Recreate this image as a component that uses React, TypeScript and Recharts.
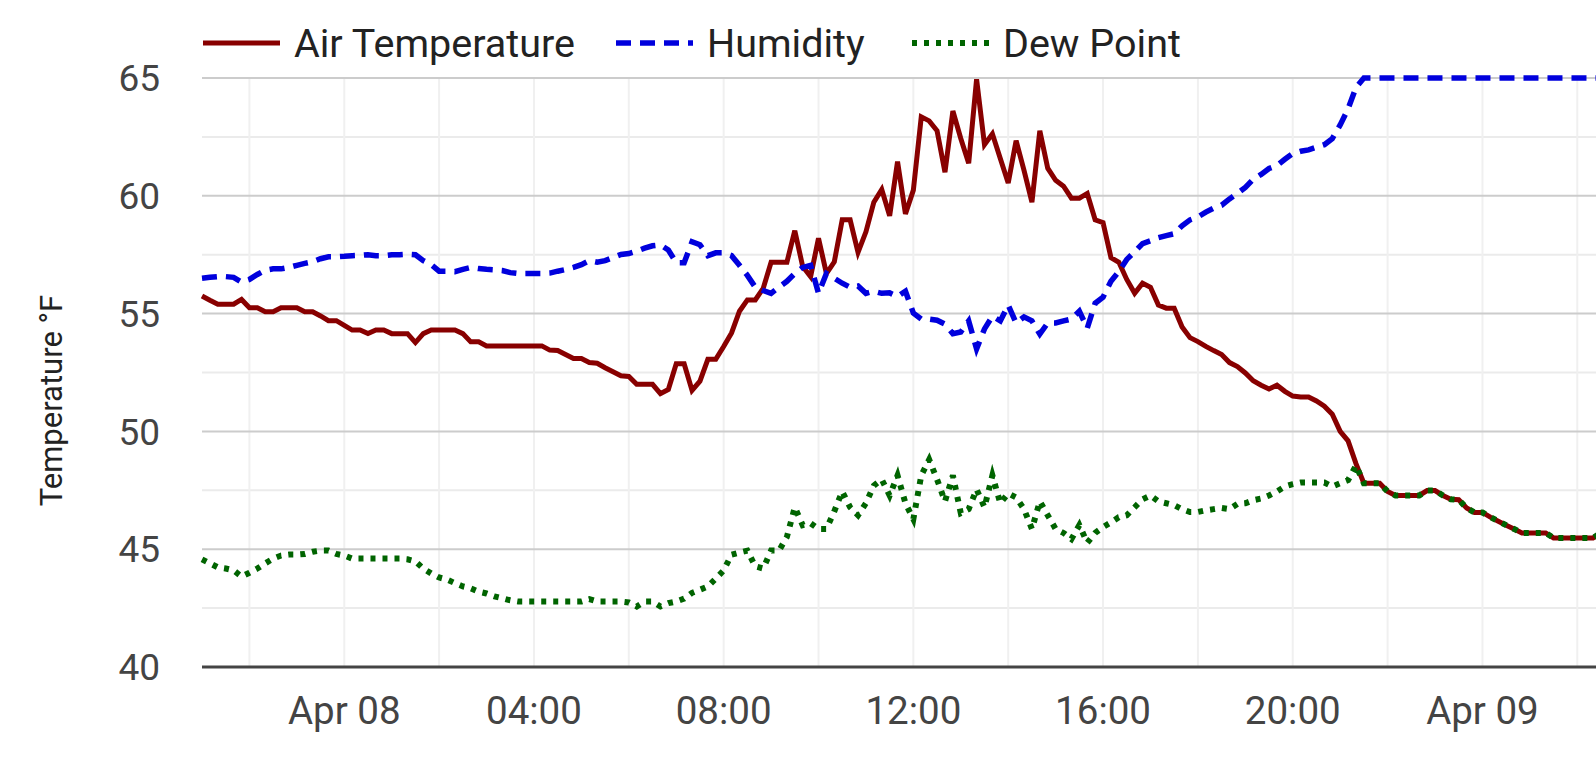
import { LineChart, Line, XAxis, YAxis, CartesianGrid } from "recharts"

// Readings every 10 minutes, first one at 21:00 on Apr 07.
// Times are minutes relative to Apr 08 00:00.
const START_MIN = -180
const STEP_MIN = 10

// one row per hour (6 readings)
const airTemp = [
  55.75, 55.57, 55.4, 55.4, 55.4, 55.6,
  55.25, 55.25, 55.08, 55.08, 55.25, 55.25,
  55.25, 55.08, 55.08, 54.9, 54.7, 54.7,
  // Apr 08
  54.5, 54.3, 54.3, 54.15, 54.3, 54.3,
  54.15, 54.15, 54.15, 53.77, 54.15, 54.3,
  54.3, 54.3, 54.3, 54.15, 53.8, 53.8,
  53.63, 53.63, 53.63, 53.63, 53.63, 53.63,
  53.63, 53.63, 53.45, 53.43, 53.26, 53.09,
  53.09, 52.92, 52.89, 52.7, 52.53, 52.36,
  52.33, 52.0, 52.0, 52.0, 51.6, 51.78,
  52.87, 52.87, 51.74, 52.13, 53.06, 53.06,
  53.6, 54.18, 55.1, 55.58, 55.58, 56.07,
  57.18, 57.18, 57.18, 58.52, 57.0, 56.57,
  58.2, 56.7, 57.2, 58.98, 58.98, 57.6,
  58.47, 59.73, 60.27, 59.15, 61.45, 59.23,
  60.24, 63.35, 63.18, 62.76, 61.0, 63.6,
  62.43, 61.38, 64.95, 62.17, 62.63, 61.58,
  60.54, 62.34, 61.08, 59.73, 62.76, 61.17,
  60.66, 60.41, 59.9, 59.9, 60.1, 58.98,
  58.86, 57.38, 57.18, 56.45, 55.86, 56.29,
  56.12, 55.36, 55.23, 55.23, 54.43, 53.98,
  53.81, 53.61, 53.43, 53.26, 52.92, 52.75,
  52.48, 52.15, 51.96, 51.8, 51.96, 51.7,
  51.5, 51.46, 51.46, 51.29, 51.07, 50.73,
  50.0, 49.6, 48.63, 47.8, 47.8, 47.8,
  47.45, 47.28, 47.28, 47.28, 47.28, 47.49,
  47.49, 47.28, 47.12, 47.1, 46.75, 46.56,
  // Apr 09
  46.56, 46.36, 46.19, 46.02, 45.86, 45.69,
  45.69, 45.69, 45.69, 45.48, 45.48, 45.48,
  45.48, 45.48, 45.48, 45.69,
]

const humidity = [
  56.5, 56.54, 56.57, 56.57, 56.54, 56.34,
  56.45, 56.66, 56.84, 56.9, 56.9, 56.96,
  57.05, 57.13, 57.2, 57.33, 57.41, 57.41,
  // Apr 08
  57.43, 57.46, 57.47, 57.5, 57.46, 57.46,
  57.5, 57.5, 57.52, 57.5, 57.25, 57.08,
  56.8, 56.8, 56.78, 56.88, 56.96, 56.91,
  56.88, 56.86, 56.83, 56.74, 56.7, 56.7,
  56.7, 56.7, 56.72, 56.8, 56.87, 56.96,
  57.08, 57.25, 57.18, 57.25, 57.38, 57.51,
  57.55, 57.65, 57.78, 57.88, 57.92, 57.7,
  57.16, 57.16, 58.05, 57.92, 57.46, 57.58,
  57.58, 57.46, 57.05, 56.62, 56.12, 55.98,
  55.86, 56.12, 56.37, 56.7, 56.96, 57.05,
  55.86, 56.7, 56.5, 56.29, 56.12, 56.17,
  55.86, 55.95, 55.86, 55.88, 55.73, 55.95,
  55.02, 54.77, 54.77, 54.72, 54.55, 54.15,
  54.22, 54.69, 53.5, 54.35, 54.89, 54.69,
  55.36, 54.6, 54.86, 54.69, 54.13, 54.6,
  54.6, 54.69, 54.77, 55.1, 54.38, 55.44,
  55.7, 56.37, 56.79, 57.3, 57.63, 57.97,
  58.09, 58.22, 58.31, 58.39, 58.73, 58.98,
  59.1, 59.31, 59.48, 59.6, 59.87, 60.1,
  60.36, 60.7, 60.91, 61.16, 61.28, 61.55,
  61.79, 61.89, 61.95, 62.06, 62.17, 62.43,
  63.01, 63.69, 64.6, 65, 65, 65,
  65, 65, 65, 65, 65, 65,
  65, 65, 65, 65, 65, 65,
  // Apr 09
  65, 65, 65, 65, 65, 65,
  65, 65, 65, 65, 65, 65,
  65, 65, 65, 65,
]

const dewPoint = [
  44.57, 44.4, 44.23, 44.18, 44.1, 43.84,
  44.0, 44.18, 44.4, 44.6, 44.73, 44.77,
  44.77, 44.8, 44.89, 44.94, 44.94, 44.8,
  // Apr 08
  44.73, 44.6, 44.6, 44.6, 44.6, 44.6,
  44.6, 44.6, 44.57, 44.48, 44.18, 43.97,
  43.8, 43.71, 43.56, 43.42, 43.34, 43.2,
  43.12, 43.0, 42.92, 42.83, 42.78, 42.78,
  42.78, 42.78, 42.78, 42.78, 42.78, 42.78,
  42.78, 42.88, 42.78, 42.78, 42.78, 42.78,
  42.74, 42.57, 42.78, 42.78, 42.57, 42.71,
  42.78, 42.9, 43.15, 43.28, 43.42, 43.75,
  44.1, 44.77, 44.86, 44.94, 44.27, 44.18,
  44.94, 44.94, 45.52, 46.78, 46.02, 46.1,
  45.86, 45.86, 46.61, 47.45, 46.78, 46.44,
  46.95, 47.7, 47.96, 47.28, 48.13, 46.95,
  46.28, 48.13, 48.8, 47.96, 47.03, 48.13,
  46.53, 46.7, 47.54, 46.78, 48.13, 46.95,
  47.37, 47.2, 46.7, 45.86, 47.03, 46.44,
  45.86, 45.69, 45.43, 46.02, 45.27, 45.69,
  45.94, 46.14, 46.36, 46.44, 46.78, 47.12,
  47.28, 47.03, 46.95, 46.87, 46.7, 46.58,
  46.58, 46.65, 46.7, 46.75, 46.7, 46.92,
  46.95, 47.08, 47.15, 47.28, 47.45, 47.66,
  47.76, 47.83, 47.83, 47.83, 47.83, 47.66,
  47.8, 47.93, 48.55, 47.8, 47.8, 47.8,
  47.45, 47.28, 47.28, 47.28, 47.28, 47.49,
  47.49, 47.28, 47.12, 47.1, 46.75, 46.56,
  // Apr 09
  46.56, 46.36, 46.19, 46.02, 45.86, 45.69,
  45.69, 45.69, 45.69, 45.48, 45.48, 45.48,
  45.48, 45.48, 45.48, 45.69,
]

const xTicks = [0, 240, 480, 720, 960, 1200, 1440]
const xGrid = [-120, 0, 120, 240, 360, 480, 600, 720, 840, 960, 1080, 1200, 1320, 1440, 1560]
const yTicks = [40, 45, 50, 55, 60, 65]
const yMinor = [42.5, 47.5, 52.5, 57.5, 62.5]

const series = [
  { key: "air", name: "Air Temperature", color: "#880000", width: 5, dash: undefined, left: 203 },
  { key: "hum", name: "Humidity", color: "#0000dd", width: 5.5, dash: "15 9", left: 616 },
  { key: "dew", name: "Dew Point", color: "#006400", width: 6, dash: "5 7", left: 912 },
]

const data = airTemp.map((v, i) => ({
  t: START_MIN + i * STEP_MIN,
  air: v,
  hum: humidity[i],
  dew: dewPoint[i],
}))

function formatTime(t: number) {
  if (t % 1440 === 0) return `Apr ${String(8 + t / 1440).padStart(2, "0")}`
  const h = Math.floor((((t % 1440) + 1440) % 1440) / 60)
  return `${String(h).padStart(2, "0")}:00`
}

function YTitle({ viewBox }: any) {
  const cy = viewBox.y + viewBox.height / 2 + 28
  return (
    <text
      x={51}
      y={cy}
      transform={`rotate(-90 51 ${cy})`}
      textAnchor="middle"
      dominantBaseline="central"
      fill="#222"
      fontSize={31}
    >
      Temperature °F
    </text>
  )
}

export default function App() {
  return (
    <div
      style={{
        position: "absolute",
        left: 0,
        top: 0,
        width: 1596,
        height: 765,
        overflow: "hidden",
        background: "#fff",
        fontFamily: "Roboto, sans-serif",
      }}
    >
      {/* legend */}
      {series.map((s) => (
        <div
          key={s.key}
          style={{
            position: "absolute",
            left: s.left,
            top: 20,
            height: 46,
            display: "flex",
            alignItems: "center",
            gap: 14,
            fontSize: 39.5,
            color: "#222",
            whiteSpace: "nowrap",
          }}
        >
          <svg width={77} height={10}>
            <line
              x1={0}
              x2={77}
              y1={5}
              y2={5}
              stroke={s.color}
              strokeWidth={s.width}
              strokeDasharray={s.dash}
            />
          </svg>
          <span>{s.name}</span>
        </div>
      ))}

      <LineChart
        width={1601}
        height={765}
        data={data}
        margin={{ top: 78, right: 0, bottom: 0, left: 0 }}
      >
        <CartesianGrid vertical={false} horizontalValues={yMinor} stroke="#ebebeb" strokeWidth={2} />
        <CartesianGrid horizontal={false} verticalValues={xGrid} stroke="#f0f0f0" strokeWidth={2} />
        <CartesianGrid vertical={false} horizontalValues={yTicks} stroke="#cccccc" strokeWidth={2} />
        <XAxis
          type="number"
          dataKey="t"
          domain={[-180, 1590]}
          ticks={xTicks}
          tickFormatter={formatTime}
          tickLine={false}
          tickSize={0}
          tickMargin={30}
          height={98}
          axisLine={{ stroke: "#444", strokeWidth: 3 }}
          tick={{ fill: "#444", fontSize: 38.5 }}
        />
        <YAxis
          type="number"
          domain={[40, 65]}
          ticks={yTicks}
          width={202}
          tickLine={false}
          axisLine={false}
          tickSize={0}
          tickMargin={42}
          tick={{ fill: "#444", fontSize: 37 }}
          label={{ content: YTitle }}
        />
        {series.map((s) => (
          <Line
            key={s.key}
            type="linear"
            dataKey={s.key}
            name={s.name}
            stroke={s.color}
            strokeWidth={s.width}
            strokeDasharray={s.dash}
            dot={false}
            isAnimationActive={false}
          />
        ))}
      </LineChart>
    </div>
  )
}
